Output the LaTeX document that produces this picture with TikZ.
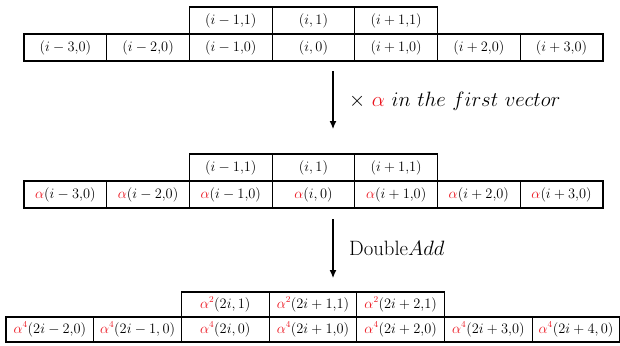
\documentclass[tikz,border=0pt]{standalone}
\usetikzlibrary{arrows.meta}
\definecolor{ared}{RGB}{235,20,30}
\newcommand{\ra}{{\color{ared}\alpha}}
\begin{document}
\begin{tikzpicture}[x=1pt,y=-1pt,
  cell/.style={draw=black,line width=1.2pt,inner sep=0pt,minimum height=#1,font=\fontsize{15}{18}\selectfont},
  cellA/.style={cell=27pt,minimum width=82.7pt},
  cellB/.style={cell=25pt,minimum width=87.7pt,font=\fontsize{13.3}{16}\selectfont},
  lab/.style={anchor=west,inner sep=0pt,font=\fontsize{22}{26}\selectfont},
  arr/.style={line width=1.2pt,-{Latex[length=8pt,width=7pt]}}]
\useasboundingbox (0,0) rectangle (620,345);
% block 1
\node[cellA] (a11) at (230.75,20.5) {$(i-1{,}1)$};
\node[cellA] (a12) at (313.45,20.5) {$(i,1)$};
\node[cellA] (a13) at (396.15,20.5) {$(i+1{,}1)$};
\node[cellA] (a01) at (65.35,47.5) {$(i-3{,}0)$};
\node[cellA] (a02) at (148.05,47.5) {$(i-2{,}0)$};
\node[cellA] (a03) at (230.75,47.5) {$(i-1{,}0)$};
\node[cellA] (a04) at (313.45,47.5) {$(i,0)$};
\node[cellA] (a05) at (396.15,47.5) {$(i+1{,}0)$};
\node[cellA] (a06) at (478.85,47.5) {$(i+2{,}0)$};
\node[cellA] (a07) at (561.55,47.5) {$(i+3{,}0)$};
% block 2
\node[cellA] (b11) at (230.75,167.5) {$(i-1{,}1)$};
\node[cellA] (b12) at (313.45,167.5) {$(i,1)$};
\node[cellA] (b13) at (396.15,167.5) {$(i+1{,}1)$};
\node[cellA] (b01) at (65.35,194.5) {$\ra(i-3{,}0)$};
\node[cellA] (b02) at (148.05,194.5) {$\ra(i-2{,}0)$};
\node[cellA] (b03) at (230.75,194.5) {$\ra(i-1{,}0)$};
\node[cellA] (b04) at (313.45,194.5) {$\ra(i,0)$};
\node[cellA] (b05) at (396.15,194.5) {$\ra(i+1{,}0)$};
\node[cellA] (b06) at (478.85,194.5) {$\ra(i+2{,}0)$};
\node[cellA] (b07) at (561.55,194.5) {$\ra(i+3{,}0)$};
% block 3
\node[cellB] (c11) at (225.25,304.5) {${\color{ared}\alpha^2}(2i,1)$};
\node[cellB] (c12) at (312.95,304.5) {${\color{ared}\alpha^2}(2i+1{,}1)$};
\node[cellB] (c13) at (400.65,304.5) {${\color{ared}\alpha^2}(2i+2{,}1)$};
\node[cellB] (c01) at (49.85,329.5) {${\color{ared}\alpha^4}(2i-2{,}0)$};
\node[cellB] (c02) at (137.55,329.5) {${\color{ared}\alpha^4}(2i-1,0)$};
\node[cellB] (c03) at (225.25,329.5) {${\color{ared}\alpha^4}(2i,0)$};
\node[cellB] (c04) at (312.95,329.5) {${\color{ared}\alpha^4}(2i+1{,}0)$};
\node[cellB] (c05) at (400.65,329.5) {${\color{ared}\alpha^4}(2i+2{,}0)$};
\node[cellB] (c06) at (488.35,329.5) {${\color{ared}\alpha^4}(2i+3{,}0)$};
\node[cellB] (c07) at (576.05,329.5) {${\color{ared}\alpha^4}(2i+4,0)$};
% arrows
\coordinate (s1) at (333,71);
\coordinate (e1) at (333,129);
\coordinate (s2) at (333,219);
\coordinate (e2) at (333,278);
\draw[arr] (s1) -- (e1);
\draw[arr] (s2) -- (e2);
\node[lab] (l1) at (349,101) {$\times\ \ra\ in\ the\ first\ vector$};
\node[lab] (l2) at (349,248) {$\mathrm{Double}Add$};
\end{tikzpicture}
\end{document}
